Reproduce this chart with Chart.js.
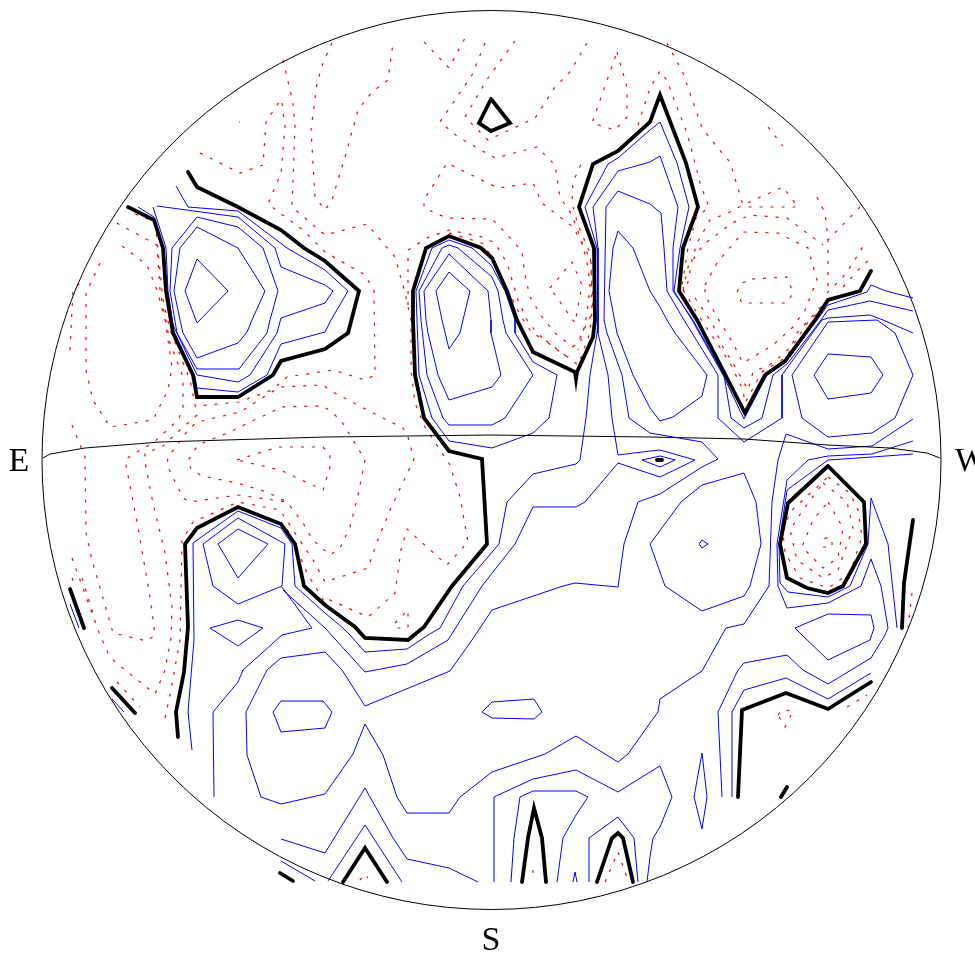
<!DOCTYPE html>
<html>
<head>
<meta charset="utf-8">
<title>contour map</title>
<script src="https://cdn.jsdelivr.net/npm/chart.js@4"></script>
<style>
  body { margin: 0; background: #fff; }
  canvas { display: block; }
</style>
</head>
<body>
<canvas id="skyMap" width="975" height="955"></canvas>
<script>
// contours, flat x,y lists in map units, origin at the centre
const thickLevels = [
  [-313,-277,-315,-252,-307,-212,-303,-167,-306,-84,-294,-68,-253,-47,-210,-64,-196,-84,-187,-126,-166,-145,-136,-167,-126,-178,-83,-180,-67,-167,-39,-126,-4,-84,-9,1,-42,9,-67,42,-76,85,-78,140,-78,169,-65,212,-42,224,-10,212,1,202,16,169,26,140,42,108,84,88,85,81,86,88,102,123,104,140,103,212,88,253,102,296,127,309,159,338,169,365,195,297,207,253,192,212,188,169,206,140,254,47,274,85,294,99,324,140,337,160,369,169,380,189],
  [-303,288,-294,273,-253,253,-210,230,-187,212,-166,199,-132,169,-143,127,-166,111,-210,99,-218,85,-253,63,-294,63,-298,85,-318,127,-325,169,-328,212,-337,240,-363,253],
  [0,361,19,337,0,329,-12,337,0,361],
  [337,-6,373,-42,375,-84,352,-126,337,-133,316,-128,296,-118,289,-84,297,-43,337,-6],
  [166,0,171,0],
  [-421,-129,-407,-168],
  [-379,-228,-356,-253],
  [-211,-413,-198,-421],
  [290,-337,296,-327],
  [422,-60,413,-123,411,-168],
  [247,-337,251,-250,295,-233,337,-249,380,-222],
  [-148,-422,-126,-388,-104,-422],
  [31,-422,37,-378,43,-348,51,-378,55,-422],
  [106,-422,121,-378,127,-373,132,-378,142,-422]
];

const positiveLevels = [
  [-294,201,-263,169,-294,137,-306,169,-294,201],
  [-294,233,-253,212,-226,169,-239,140,-244,128,-253,117,-294,102,-308,127,-311,140,-317,169,-311,212,-294,233],
  [-294,243,-253,233,-228,212,-213,169,-221,140,-224,127,-252,91,-294,91,-314,127,-321,169,-319,212,-294,243],
  [-338,253,-325,212,-323,169,-318,135,-294,85,-253,78,-241,85,-214,127,-210,142,-166,157,-158,169,-166,175,-210,193,-216,212,-253,243,-334,254],
  [-353,253,-337,243,-328,212,-325,169,-320,135,-296,83,-294,72,-253,68,-224,85,-210,116,-166,128,-160,140,-143,169,-166,190,-204,212,-253,249,-303,253,-315,274],
  [-42,188,-21,169,-28,140,-31,127,-42,111,-49,140,-55,169,-42,188],
  [-42,206,-3,169,0,140,0,127,10,85,1,73,-42,60,-53,85,-63,127,-65,140,-67,169,-42,206],
  [-42,215,-33,212,1,183,7,169,12,140,15,127,42,85,14,42,1,35,-42,35,-48,42,-64,85,-70,140,-72,169,-49,212,-42,215],
  [-42,220,-19,212,0,195,14,169,24,140,24,127,42,98,66,85,58,42,42,27,1,12,-42,19,-59,42,-72,85,-74,140,-75,169,-59,212,-42,220],
  [422,162,395,169,380,175,376,168,337,155,326,140,294,97,276,85,253,41,232,85,201,140,183,169,189,212,198,253,186,297,169,338,159,330,127,302,117,296,94,253,106,212,107,140,106,127,99,85,95,42,89,0,85,-4,42,-14,16,-42,8,-84,-28,-126,-51,-168,-63,-175,-84,-189,-126,-192,-141,-175,-148,-168,-166,-153,-196,-126,-199,-84,-210,-68,-253,-51,-298,-83,-297,-180,-303,-252,-299,-290],
  [422,149,379,159,337,150,330,140,297,97,282,85,271,42,253,32,240,42,233,85,202,140,182,169,182,212,187,253,169,304,159,298,127,289,102,253,107,212,107,127,117,85,121,42,127,5,159,9,169,10,204,0,169,-17,127,-3,94,-42,85,-47,42,-47,24,-84,-9,-126,-43,-180,-84,-204,-126,-212,-166,-168,-208,-130],
  [422,127,392,140,379,145,337,142,331,140,291,85,291,42,253,18,227,42,227,85,193,140,176,169,173,212,170,247,159,256,127,269,115,253,113,140,116,127,131,85,138,42,159,27,211,18,227,1,211,-7,169,-34,147,-42,133,-84,127,-127,84,-123,72,-126,1,-150,-19,-180,-41,-211,-126,-246,-149,-210,-166,-192,-210,-198,-224,-210,-245,-252,-244,-295,-230,-337,-210,-344,-166,-334,-138,-294,-126,-264,-108,-295,-94,-337,-84,-353,-42,-353,-31,-337,1,-312,54,-294,85,-276,127,-302,137,-294,159,-263,167,-252,169,-239,211,-211,231,-175,235,-168,253,-164,278,-126,281,-42,287,0,295,26,337,11,381,14,422,41],
  [127,229,142,212,159,169,169,153,176,140,184,127,216,85,211,64,182,43,169,39,159,52,142,85,126,127,118,169,122,212,127,229],
  [151,0,169,4,184,0,169,-7,151,0],
  [337,138,386,140,404,127,422,85,404,42,381,27,337,23,311,42,301,85,337,138],
  [337,106,380,103,392,85,380,67,337,61,323,85,337,106],
  [422,19,381,6,337,4,317,0,296,-20,286,-84,287,-126,296,-148,337,-143,370,-126,380,-99,390,-126,397,-168,394,-175,380,-198,337,-224,312,-210,296,-195,253,-203,247,-210,227,-252,231,-337],
  [422,6,381,3,337,0,296,-30,288,-84,289,-123,297,-132,337,-137,359,-126,377,-84,380,-38,397,-84,406,-168],
  [337,-154,380,-155,383,-168,379,-180,337,-200,311,-175,304,-168,337,-154],
  [241,-337,241,-252,253,-230,295,-218,337,-239,380,-213],
  [211,-293,216,-337,211,-369,203,-337,211,-293],
  [211,-80,217,-84,211,-88,208,-84,211,-80],
  [253,-13,265,-42,270,-84,259,-126,253,-136,211,-151,174,-126,159,-84,190,-42,211,-25,253,-13],
  [3,-422,3,-337,42,-319,85,-310,127,-332,159,-312,169,-306,181,-337,169,-367,162,-378,159,-397,156,-422],
  [20,-422,23,-378,29,-337,42,-331,85,-331,97,-337,85,-355,72,-378,66,-422],
  [98,-422,98,-378,127,-357,143,-378,147,-422],
  [82,-422,84,-412,86,-422],
  [-163,-421,-126,-365,-89,-422],
  [-210,-379,-166,-393,-126,-328,-98,-378,-84,-399,-42,-408,-13,-422],
  [-210,-401,-176,-421],
  [-379,-239,-367,-252],
  [-421,-144,-412,-168],
  [-281,-168,-253,-160,-228,-168,-253,-186,-281,-168],
  [-210,-241,-168,-241,-159,-252,-166,-268,-210,-272,-218,-252,-210,-241],
  [-253,-58,-206,-84,-209,-126,-253,-144,-278,-126,-288,-84,-253,-58],
  [-253,-69,-223,-84,-253,-118,-273,-84,-253,-69],
  [-277,-337,-278,-252,-253,-222,-248,-210,-209,-175,-179,-168,-209,-127],
  [1,-242,43,-239,51,-252,43,-259,1,-258,-9,-252,1,-242]
];

const negativeLevels = [
  [-391,197,-405,167,-405,90,-398,60,-381,33,-338,40,-323,70,-319,93,-326,140,-334,170,-344,195,-373,217],
  [-419,35,-406,3,-405,-73,-399,-100,-384,-152,-378,-173,-344,-181,-336,-175,-341,-137,-353,-67,-366,0,-358,6,-338,17,-313,40,-308,50,-308,83,-321,117,-331,170,-334,215,-378,239],
  [-419,-98,-399,-153,-391,-175,-383,-193,-376,-202,-336,-234,-326,-210,-320,-178,-319,-147,-326,-93,-338,-43,-346,-2,-346,7,-329,13,-311,30,-294,45,-297,60,-301,80,-321,130,-328,160,-333,210,-336,238,-363,249],
  [-374,-222,-351,-247],
  [-409,-118,-396,-160],
  [-419,-118,-415,-127],
  [-421,110,-418,170,-411,177],
  [-326,-258,-321,-235,-311,-180,-309,-80,-298,-62,-253,-42,-211,-50,-196,-73,-178,-100,-166,-122,-123,-108,-114,-82,-101,-50,-77,1,-83,23,-88,32,-118,47,-158,68,-168,75,-211,73,-224,65,-251,48,-294,38,-303,30,-323,3,-324,-5,-308,-38,-301,-42,-253,-35,-204,-42,-188,-63,-178,-80,-161,-95,-151,-88,-141,-67,-133,-35,-126,0,-138,20,-149,38,-158,47,-168,54,-211,53,-219,48,-241,38,-261,28,-293,15,-304,-2,-299,-10,-289,-16,-254,-23,-224,-32,-204,-42],
  [-208,400,-198,357,-196,333,-199,253,-166,225,-124,236,-96,203,-86,167,-80,140,-80,90,-76,57,-66,33,-41,-5,-31,-37,-23,-82,-44,-105,-84,-69,-90,-90,-96,-133,-123,-157,-161,-140,-166,-143,-184,-113,-198,-80,-206,-65],
  [-159,417,-168,397,-174,377,-180,330,-176,263,-166,250,-159,260,-146,303,-133,350,-119,368,-103,380,-98,417],
  [-291,307,-251,287,-228,295,-225,338,-212,358],
  [-209,357,-206,333,-210,287,-223,256,-188,230,-166,208,-126,185,-117,169,-116,85,-126,80,-158,90,-204,83,-219,70,-252,58,-294,54],
  [-67,418,-42,392,-26,422],
  [-6,417,-19,385,-51,338,-33,323,4,302,46,313,64,295,69,263,81,245,91,218,97,193,99,173,96,147,92,127,87,110],
  [24,419,-3,382,-26,343,-3,320,44,342,64,373,79,388,96,417],
  [126,408,136,373,136,343,124,330,101,337,126,408],
  [147,335,159,372,169,389,176,380,184,358,196,327,202,305,209,277,218,253,205,242,197,212,191,175],
  [82,113,87,118,101,147,100,200,82,233,51,257,42,277,7,272,-44,297,-67,260,-67,252,-44,242,1,241,9,233,24,217,31,208,34,185,39,163,51,143,64,127,82,113],
  [-83,155,-83,210,-64,222,-42,230,-9,223,4,217,16,197,27,160,36,140,46,127,62,113,81,100,87,95,99,127,102,160,99,207,87,235,81,257,82,278,91,298],
  [-42,227,-9,217,1,203,11,177,22,160,29,145,41,127,54,120,71,107,81,100],
  [59,172,81,198,91,175,84,137,59,172],
  [176,417,192,387,211,332,231,307,239,298,252,255,259,253,307,253,292,273,252,255,239,248,219,240,206,217,201,200,196,173],
  [192,170,197,193,212,215,241,237,259,245,296,242,332,215],
  [326,263,334,247,337,220,337,167],
  [369,253,337,220],
  [214,175,226,197,252,228,287,227,317,212,326,180,314,150,302,133,282,115,252,97,242,117,226,143,214,165,214,175],
  [261,181,296,183,302,167,296,157,251,157,246,168,251,177,261,181],
  [192,170,209,142,224,120,239,97,252,70,254,57,271,88,296,103,306,127,336,160],
  [204,162,221,137,232,113,246,90,257,70,262,88,282,97,302,115,317,138,346,167],
  [336,167,352,183,362,197,374,217],
  [352,173,369,192,380,202],
  [277,333,292,314],
  [337,-17,359,-33,367,-50,371,-77,359,-113,337,-128,309,-118,294,-93,292,-73,299,-52,337,-17],
  [332,-23,356,-42,362,-68,347,-110,332,-118,306,-100,299,-70,312,-50,332,-23],
  [337,-42,352,-68,347,-98,332,-108,311,-87,322,-60,337,-42],
  [334,-78,341,-78,341,-87,332,-87,334,-78],
  [-254,0,-213,13,-168,13,-161,5,-161,-7,-168,-30,-211,-10,-254,0],
  [-96,-163,-83,-150,-83,-168,-96,-168],
  [-131,-420,-126,-414,-123,-418],
  [42,-410,42,-416],
  [114,-422,127,-392,137,-420],
  [287,-255,291,-250,302,-251,294,-267,287,-255],
  [356,-247,376,-235],
  [421,-133,417,-167],
  [-252,338,-251,338]
];

// the line dividing the two halves of the disc
const horizon = [-448,2,-441,6,-406,12,-331,18,-166,23,-1,25,159,23,253,21,337,15,399,12,436,7,449,2];

const compassNames = ['E', 'W', 'S'];
const compassX = [-472, 480, 0];
const compassY = [-2.5, -2.5, -481.5];

const discCentre = [0.5, 0];
const discRadius = 449.5;

function toPoints(flat) {
  const pts = [];
  for (let i = 0; i < flat.length; i += 2) {
    pts.push({x: flat[i], y: flat[i + 1]});
  }
  return pts;
}

function lineSet(flat, color, width, dash, cap) {
  return {
    data: toPoints(flat),
    showLine: true,
    fill: false,
    tension: 0,
    pointRadius: 0,
    borderColor: color,
    borderWidth: width,
    borderDash: dash,
    borderCapStyle: cap,
    borderJoinStyle: 'miter'
  };
}

// first dataset is painted last, so the thick lines stay on top
const datasets = [];
thickLevels.forEach(l => datasets.push(lineSet(l, '#000000', 3.8, [], 'round')));
datasets.push(lineSet(horizon, '#000000', 1, [], 'butt'));
positiveLevels.forEach(l => datasets.push(lineSet(l, '#0000ff', 1, [], 'butt')));
negativeLevels.forEach(l => datasets.push(lineSet(l, '#ff0000', 1.2, [3, 8], 'butt')));

/* outline of the disc and the compass letters */
const discPlugin = {
  id: 'disc',
  afterDatasetsDraw(chart) {
    const ctx = chart.ctx;
    const xs = chart.scales.x;
    const ys = chart.scales.y;
    const cx = xs.getPixelForValue(discCentre[0]);
    const cy = ys.getPixelForValue(discCentre[1]);
    const r = xs.getPixelForValue(discCentre[0] + discRadius) - cx;
    ctx.save();
    ctx.strokeStyle = '#000';
    ctx.lineWidth = 1;
    ctx.beginPath();
    ctx.arc(cx, cy, r, 0, Math.PI * 2);
    ctx.stroke();
    ctx.fillStyle = '#000';
    ctx.font = '34px "Liberation Serif"';
    ctx.textAlign = 'center';
    ctx.textBaseline = 'middle';
    compassNames.forEach((name, i) => {
      ctx.fillText(name, xs.getPixelForValue(compassX[i]), ys.getPixelForValue(compassY[i]));
    });
    ctx.restore();
  }
};

new Chart(document.getElementById('skyMap'), {
  type: 'scatter',
  data: {datasets: datasets},
  options: {
    responsive: false,
    animation: false,
    events: [],
    layout: {padding: 0},
    plugins: {legend: {display: false}, tooltip: {enabled: false}},
    scales: {
      x: {type: 'linear', min: -491, max: 484, display: false},
      y: {type: 'linear', min: -495, max: 460, display: false}
    }
  },
  plugins: [discPlugin]
});
</script>
</body>
</html>
